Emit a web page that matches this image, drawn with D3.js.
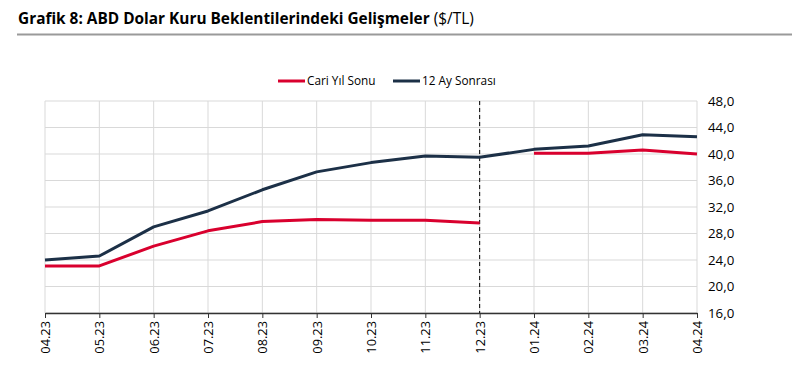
<!DOCTYPE html>
<html><head><meta charset="utf-8">
<script src="https://cdn.jsdelivr.net/npm/d3@7"></script>
<style>
body{margin:0;background:#fff;}
svg{display:block;font-family:"Open Sans","Noto Sans",sans-serif;}
</style></head>
<body><svg id="c" width="802" height="380"></svg>
<script>
const categories = ["04.23","05.23","06.23","07.23","08.23","09.23","10.23","11.23","12.23","01.24","02.24","03.24","04.24"];
const cariYilSonu = [23.1,23.1,26.1,28.4,29.8,30.1,30.0,30.0,29.6,40.1,40.1,40.6,40.0];
const onIkiAySonrasi = [24.0,24.6,29.0,31.4,34.6,37.3,38.7,39.7,39.5,40.7,41.2,42.9,42.6];
const cariBreakAfter = "12.23";
const dashedAt = "12.23";
const yTicks = [16,20,24,28,32,36,40,44,48];
const seriesNames = ["Cari Yıl Sonu","12 Ay Sonrası"];
const colors = ["#d9002e","#1c3047"];

const svg = d3.select("#c");
const L = 45, R = 697, T = 101, B = 313;
const x = d3.scalePoint().domain(categories).range([L, R]);
const y = d3.scaleLinear().domain([16,48]).range([B, T]);

// title
const title = svg.append("text").attr("x",18).attr("y",24).attr("font-size",15.4).attr("fill","#000");
title.append("tspan").attr("font-weight","bold").text("Grafik 8: ABD Dolar Kuru Beklentilerindeki Gelişmeler");
title.append("tspan").attr("font-weight","normal").text(" ($/TL)");
svg.append("line").attr("x1",17).attr("x2",792).attr("y1",34.5).attr("y2",34.5).attr("stroke","#9a9a9a").attr("stroke-width",2);

// gridlines
const g = svg.append("g");
g.selectAll("line.h").data(yTicks).join("line").attr("class","h")
  .attr("x1",L).attr("x2",R).attr("y1",d=>y(d)).attr("y2",d=>y(d))
  .attr("stroke","#d9d9d9").attr("stroke-width",1);
g.selectAll("line.v").data(categories).join("line").attr("class","v")
  .attr("x1",d=>x(d)).attr("x2",d=>x(d)).attr("y1",T).attr("y2",B)
  .attr("stroke","#d9d9d9").attr("stroke-width",1);

// y axis (right, no line)
const ya = svg.append("g").attr("transform",`translate(${R},0)`)
  .call(d3.axisRight(y).tickValues(yTicks).tickSize(0).tickPadding(11).tickFormat(d=>d3.format(".1f")(d).replace(".",",")));
ya.select(".domain").remove();
ya.selectAll("text").attr("font-size",13.3).attr("fill","#000").attr("font-family","'Open Sans','Noto Sans',sans-serif");

// x axis
const xa = svg.append("g").attr("transform",`translate(0,${B})`)
  .call(d3.axisBottom(x).tickSize(5).tickSizeOuter(0));
xa.select(".domain").attr("stroke","#333").attr("stroke-width",1.3);
xa.selectAll(".tick line").attr("stroke","#333");
xa.selectAll("text").attr("font-size",12.8).attr("fill","#000").attr("font-family","'Open Sans','Noto Sans',sans-serif")
  .attr("transform","rotate(-90)").attr("text-anchor","end").attr("dy","0.35em").attr("x",-8).attr("y",0);

// dashed vertical line
svg.append("line").attr("x1",x(dashedAt)).attr("x2",x(dashedAt)).attr("y1",T).attr("y2",B)
  .attr("stroke","#000").attr("stroke-width",1).attr("stroke-dasharray","4,3");

const line = d3.line().x(d=>x(d.c)).y(d=>y(d.v));
const bi = categories.indexOf(cariBreakAfter);
const cariPts = categories.map((c,i)=>({c,v:cariYilSonu[i]}));
const segs = [cariPts.slice(0,bi+1), cariPts.slice(bi+1)];
const twelvePts = categories.map((c,i)=>({c,v:onIkiAySonrasi[i]}));

svg.append("path").attr("d",line(twelvePts)).attr("fill","none").attr("stroke",colors[1]).attr("stroke-width",3).attr("stroke-linejoin","round");
segs.forEach(s=>svg.append("path").attr("d",line(s)).attr("fill","none").attr("stroke",colors[0]).attr("stroke-width",3).attr("stroke-linejoin","round"));

// legend
const leg = [{x:278,name:seriesNames[0],col:colors[0]},{x:393,name:seriesNames[1],col:colors[1]}];
leg.forEach(l=>{
  svg.append("line").attr("x1",l.x).attr("x2",l.x+27).attr("y1",81).attr("y2",81).attr("stroke",l.col).attr("stroke-width",3);
  svg.append("text").attr("x",l.x+29).attr("y",85).attr("font-size",11.8).attr("fill","#000").text(l.name);
});
</script></body></html>
